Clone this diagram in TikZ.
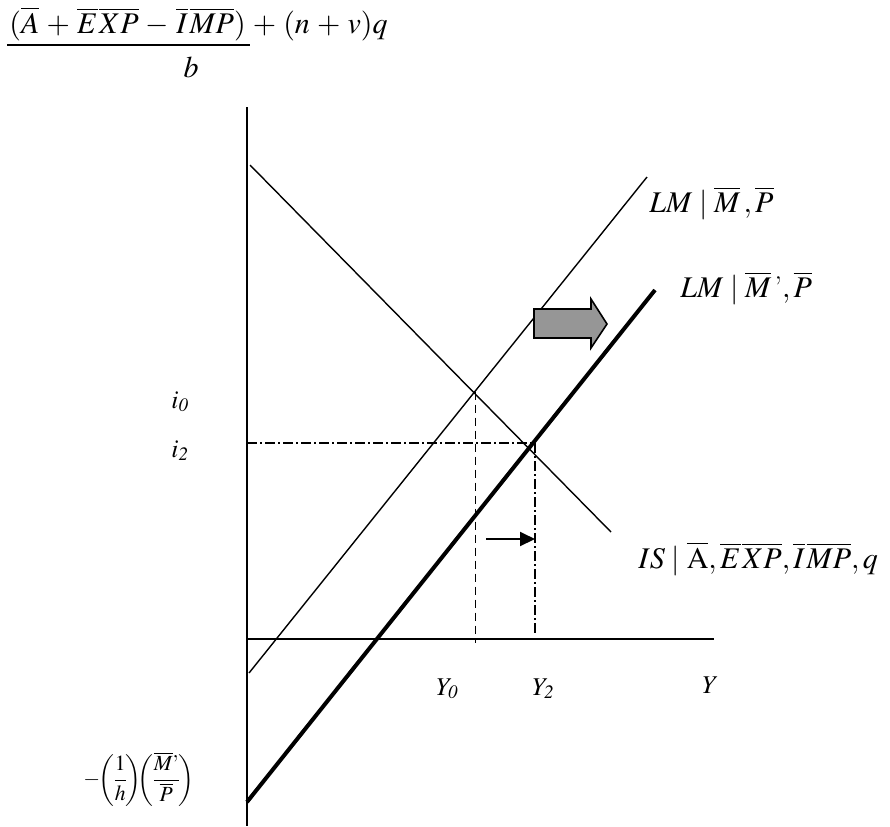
\documentclass[tikz,border=0pt]{standalone}
\usepackage{amsmath}
\usepackage{mathptmx}
\usepackage{tikz}
\usetikzlibrary{
  arrows.meta,
  positioning,
  calc
}
\definecolor{shiftgray}{RGB}{150,150,150}

\begin{document}
\begin{tikzpicture}[
    x=0.5pt,
    y=-0.5pt,
    >=Latex,
    axis/.style={
      line width=0.9pt
    },
    curve/.style={
      line width=0.7pt
    },
    newcurve/.style={
      line width=2pt
    },
    guide/.style={
      line width=0.7pt,
      dash pattern=on 4pt off 2.5pt
    },
    guidedot/.style={
      line width=0.7pt,
      dash pattern=on 5pt off 1.6pt on 0.8pt off 1.6pt
    },
    lbl/.style={
      inner sep=0pt,
      anchor=base west,
      font=\fontsize{15}{18}\selectfont
    },
    tick/.style={
      inner sep=0pt,
      anchor=base west,
      font=\fontsize{12.8}{15}\selectfont
    }
  ]
  \useasboundingbox (0,0) rectangle (890,826);

  % ========== Intercept of IS ==========
  \node[lbl] (isnum) at (9,33)
    {\medmuskip=4.3mu $(\overline{A}+\overline{E}\mkern1mu\overline{XP}-\overline{I}\mkern1mu\overline{MP})+(n+v)q$};
  \coordinate (barl) at (7,45);
  \coordinate (barr) at (250,45);
  \draw[line width=0.6pt] (barl) -- (barr);
  \node[lbl,anchor=base] (isden) at (191,77) {$b$};

  % ========== Axes ==========
  \coordinate (O) at (247,639);
  \coordinate (itop) at (247,107);
  \coordinate (ibot) at (247,826);
  \coordinate (yend) at (714,639);
  \draw[axis] (itop) -- (ibot);
  \draw[axis] (O) -- (yend);

  % ========== Curves ==========
  \coordinate (lm0a) at (249,673);
  \coordinate (lm0b) at (647,177);
  \coordinate (lm2a) at (247,802);
  \coordinate (lm2b) at (655,290);
  \coordinate (isa) at (250,165);
  \coordinate (isb) at (611,532);
  \draw[curve] (lm0a) -- (lm0b);
  \draw[newcurve] (lm2a) -- (lm2b);
  \draw[curve] (isa) -- (isb);

  % ========== Equilibria ==========
  \coordinate (E0) at (475.5,391.5);
  \coordinate (E0y) at (475.5,643);
  \coordinate (E2) at (535,443);
  \coordinate (E2i) at (247,443);
  \coordinate (E2y) at (535,633);
  \draw[guide] (E0) -- (E0y);
  \draw[guidedot] (E2i) -- (E2);
  \draw[guidedot] (E2) -- (E2y);

  % output shift
  \coordinate (shifta) at (486,539);
  \coordinate (shiftb) at (535,539);
  \draw[line width=1pt,-{Triangle[length=7.5pt,width=7pt]}] (shifta) -- (shiftb);

  % LM shift
  \draw[line width=0.8pt,fill=shiftgray]
    (534,309) -- (591,309) -- (591,299) -- (607,324)
    -- (591,348) -- (591,338) -- (534,338) -- cycle;

  % ========== Labels ==========
  \node[lbl] (lm0) at (649,212)
    {$LM \mid \overline{M}\,, \overline{P}$};
  \node[lbl] (lm2) at (680,297)
    {$LM \mid \overline{M}\,\text{'}, \overline{P}$};
  \node[lbl] (is) at (638,568)
    {$IS \mid \overline{\mathrm{A}}, \overline{E}\mkern1mu\overline{XP}, \overline{I}\mkern1mu\overline{MP}, q$};

  \node[tick] (i0) at (171,408) {$i_{\mathit{0}}$};
  \node[tick] (i2) at (171,457) {$i_{\mathit{2}}$};
  \node[tick] (y0) at (436,695) {$Y_{\mathit{0}}$};
  \node[tick] (y2) at (532,695) {$Y_{\mathit{2}}$};
  \node[tick] (yy) at (702,693) {$Y$};

  \node[inner sep=0pt,anchor=east,font=\fontsize{10.8}{13}\selectfont] (icpt) at (195,780)
    {\nulldelimiterspace=0pt
     $-\mkern-3mu\left(\vrule height 15pt depth 11pt width 0pt\dfrac{1}{h}\right)\mkern-5mu\left(\vrule height 15pt depth 11pt width 0pt\dfrac{\overline{M}\text{'}}{\overline{P}}\right)$};
\end{tikzpicture}
\end{document}
